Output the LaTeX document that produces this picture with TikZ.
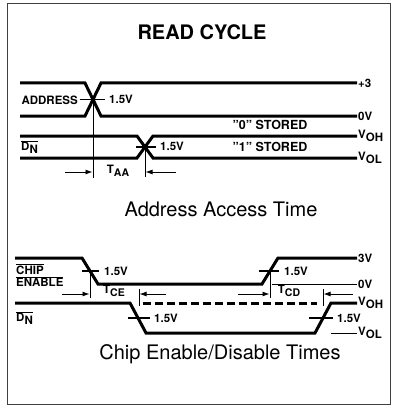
\documentclass[tikz,border=0pt]{standalone}
\usepackage{fontspec}
\setmainfont{TeX Gyre Heros}
\usetikzlibrary{arrows.meta}
\newcommand{\ovl}[1]{$\overline{\hbox{#1}}$}
\newcommand{\lowsub}[2]{#1\raisebox{-3pt}{#2}}
\newcommand{\dnbar}{\ovl{D\raisebox{-3pt}{N}}}
\tikzset{
    sig/.style={line width=3pt},
    thinref/.style={line width=0.9pt},
    levelmark/.style={line width=1.4pt},
    hiz/.style={line width=3pt, dash pattern=on 8pt off 4pt},
    lbl/.style={font=\bfseries\fontsize{11.5}{12}\selectfont, inner sep=1pt},
    lvl/.style={lbl, anchor=west},
    caption/.style={font=\fontsize{20}{22}\selectfont, inner sep=0pt},
    timing/.style={-{Latex[length=7pt,width=5pt]}, line width=0.9pt},
    frame/.style={line width=0.8pt, black!75}
}
\begin{document}
\begin{tikzpicture}[x=1pt, y=-1pt]
    \useasboundingbox (0,0) rectangle (395,409);
    \draw[frame] (7,3) rectangle (390,404);

    \node[font=\bfseries\fontsize{20}{22}\selectfont] (title) at (202,32) {READ CYCLE};

    % address access time
    \coordinate (addr-x) at (93,99.5);
    \coordinate (dn-x) at (145,147);
    \draw[sig] (20,83) -- (85,83) -- (101,116) -- (357,116);
    \draw[sig] (20,116) -- (85,116) -- (101,83) -- (357,83);
    \draw[sig] (20,136) -- (137,136) -- (153,158) -- (357,158);
    \draw[sig] (20,158) -- (137,158) -- (153,136) -- (357,136);
    \draw[levelmark] (addr-x) ++(-13,0) -- ++(25,0);
    \draw[levelmark] (dn-x) ++(-9,0) -- ++(20,0);
    \draw[thinref] (addr-x) -- ++(0,78);
    \draw[thinref] (dn-x) -- ++(0,30);

    \node[lbl, anchor=east] (addr-lbl) at (79,100) {ADDRESS};
    \node[lvl] (addr-th) at (108,99.5) {1.5V};
    \node[lvl] (dn-lbl) at (20,147) {\dnbar};
    \node[lvl] (dn-th) at (159,146.5) {1.5V};
    \node[lbl, font=\bfseries\fontsize{12.5}{13}\selectfont] (zero) at (270,125) {"0" STORED};
    \node[lbl, font=\bfseries\fontsize{12.5}{13}\selectfont] (one) at (270,147) {"1" STORED};
    \node[lvl] (addr-hi) at (357,83) {+3};
    \node[lvl] (addr-lo) at (357,116) {0V};
    \node[lvl] (dn-hi) at (357,135.5) {\lowsub{V}{OH}};
    \node[lvl] (dn-lo) at (357,157.5) {\lowsub{V}{OL}};

    \coordinate (taa-a) at (65,172);
    \coordinate (taa-b) at (92.5,172);
    \coordinate (taa-c) at (176,172);
    \coordinate (taa-d) at (145.5,172);
    \draw[timing] (taa-a) -- (taa-b);
    \draw[timing] (taa-c) -- (taa-d);
    \node[lbl] (taa) at (118,171) {\lowsub{T}{\fontsize{10.5}{11}\selectfont AA}};

    \node[caption] (cap-a) at (221,209) {Address Access Time};

    % chip enable / disable
    \coordinate (ce-fall) at (90,271);
    \coordinate (ce-rise) at (270,271);
    \coordinate (dn-fall) at (138,318);
    \coordinate (dn-rise) at (323,318);
    \draw[sig] (15,258) -- (82,258) -- (98,284) -- (262,284) -- (278,258) -- (357,258);
    \draw[thinref] (272,284) -- (357,284);
    \draw[sig] (15,303) -- (130,303) -- (146,333) -- (315,333) -- (331,303) -- (357,303);
    \draw[hiz] (143,303) -- (317,303);
    \draw[thinref] (331,333) -- (357,333);
    \draw[levelmark] (ce-fall) ++(-8,0) -- ++(17,0);
    \draw[levelmark] (ce-rise) ++(-11,0) -- ++(20,0);
    \draw[levelmark] (dn-fall) ++(-10,0) -- ++(22,0);
    \draw[levelmark] (dn-rise) ++(-14,0) -- ++(24,0);
    \draw[thinref] (ce-fall) -- ++(0,27);
    \draw[thinref] (ce-rise) -- ++(0,27);
    \draw[thinref] (139,289) -- (139,306);
    \draw[thinref] (323,289) -- (323,306);

    \node[lvl] (chip-lbl) at (15,269) {\ovl{CHIP}};
    \node[lvl] (en-lbl) at (15,281.5) {\ovl{ENABLE}};
    \node[lvl] (ce-th) at (103,271) {1.5V};
    \node[lvl] (cd-th) at (283,271) {1.5V};
    \node[lvl] (dn2-lbl) at (15,318) {\dnbar};
    \node[lvl] (dn2-th-a) at (153,318) {1.5V};
    \node[lvl] (dn2-th-b) at (336,318) {1.5V};
    \node[lvl] (ce-hi) at (357,258) {3V};
    \node[lvl] (ce-lo) at (357,284) {0V};
    \node[lvl] (dn2-hi) at (357,302.5) {\lowsub{V}{OH}};
    \node[lvl] (dn2-lo) at (357,332.5) {\lowsub{V}{OL}};

    \coordinate (tce-a) at (62,294);
    \coordinate (tce-b) at (89.5,294);
    \coordinate (tce-c) at (166,294);
    \coordinate (tce-d) at (139.5,294);
    \coordinate (tcd-a) at (238,294);
    \coordinate (tcd-b) at (269.5,294);
    \coordinate (tcd-c) at (353,294);
    \coordinate (tcd-d) at (323.5,294);
    \draw[timing] (tce-a) -- (tce-b);
    \draw[timing] (tce-c) -- (tce-d);
    \draw[timing] (tcd-a) -- (tcd-b);
    \draw[timing] (tcd-c) -- (tcd-d);
    \node[lbl] (tce) at (114,291) {\lowsub{T}{\fontsize{10.5}{11}\selectfont CE}};
    \node[lbl] (tcd) at (289,291) {\lowsub{T}{\fontsize{10.5}{11}\selectfont CD}};

    \node[caption] (cap-b) at (220,354) {Chip Enable/Disable Times};
\end{tikzpicture}
\end{document}
